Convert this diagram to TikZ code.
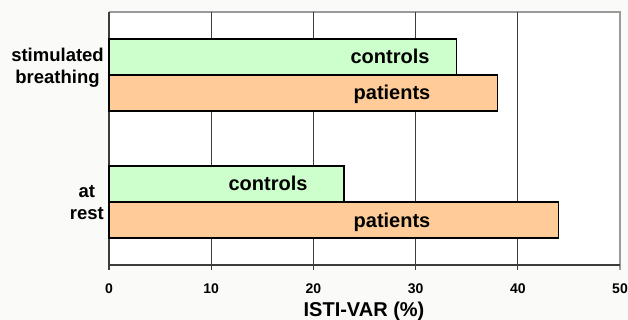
\documentclass[tikz,border=0pt]{standalone}
\usepackage{fontspec}
\setmainfont{Liberation Sans}
\usetikzlibrary{positioning}
\definecolor{ctrlgreen}{HTML}{CCFFCC}
\definecolor{patorange}{HTML}{FFCC99}
\definecolor{griddark}{HTML}{3C3C3C}
\definecolor{framegray}{HTML}{9A9A9A}
\definecolor{pagebg}{HTML}{FAFBF9}

\begin{document}
\begin{tikzpicture}[x=1pt, y=-1pt,
  bar/.style={draw=black, line width=1.4pt, fill=#1},
  gridline/.style={griddark, line width=1.1pt},
  barlabel/.style={font=\bfseries\fontsize{20}{24}\selectfont, anchor=base, inner sep=0pt},
  ticklabel/.style={font=\bfseries\fontsize{14}{16}\selectfont, anchor=base, inner sep=0pt},
  catlabel/.style={font=\bfseries\fontsize{18.5}{22}\selectfont, align=center, anchor=base east, inner sep=0pt},
]
  \fill[pagebg] (0,0) rectangle (628,320);
  \useasboundingbox (0,0) rectangle (628,320);
  \fill[white] (109,12) rectangle (620,265);

  % Frame, grid and ticks (10 units = 102.2pt)
  \draw[framegray, line width=1.1pt] (109,12) -- (620,12) -- (620,270);
  \foreach \v in {10,20,30,40}
    \draw[gridline] ({109+10.22*\v},12) -- ({109+10.22*\v},270);
  \draw[gridline] (109,265) -- (620,265);
  \draw[griddark, line width=1.4pt] (109,12) -- (109,270);
  \foreach \v in {0,10,...,50}
    \node[ticklabel] (tick\v) at ({109+10.22*\v},293) {\v};

  % Bars
  \draw[bar=ctrlgreen] (109,39) rectangle ({109+10.22*34},75);
  \draw[bar=patorange] (109,75) rectangle ({109+10.22*38},111);
  \draw[bar=ctrlgreen] (109,166) rectangle ({109+10.22*23},202);
  \draw[bar=patorange] (109,202) rectangle ({109+10.22*44},238);

  \node[barlabel] (ctrlstim) at (390,64) {controls};
  \node[barlabel] (patstim) at (392,100) {patients};
  \node[barlabel] (ctrlrest) at (268,191) {controls};
  \node[barlabel] (patrest) at (392,227) {patients};

  % Categories (base = last line) and axis title
  \node[catlabel] (stim) at (104,84) {stimulated\\breathing};
  \node[catlabel] (rest) at (104,219) {at\\rest};
  \node[font=\bfseries\fontsize{20}{24}\selectfont, anchor=base, inner sep=0pt] (xtitle) at (364,316) {ISTI-VAR (\%)};
\end{tikzpicture}
\end{document}
